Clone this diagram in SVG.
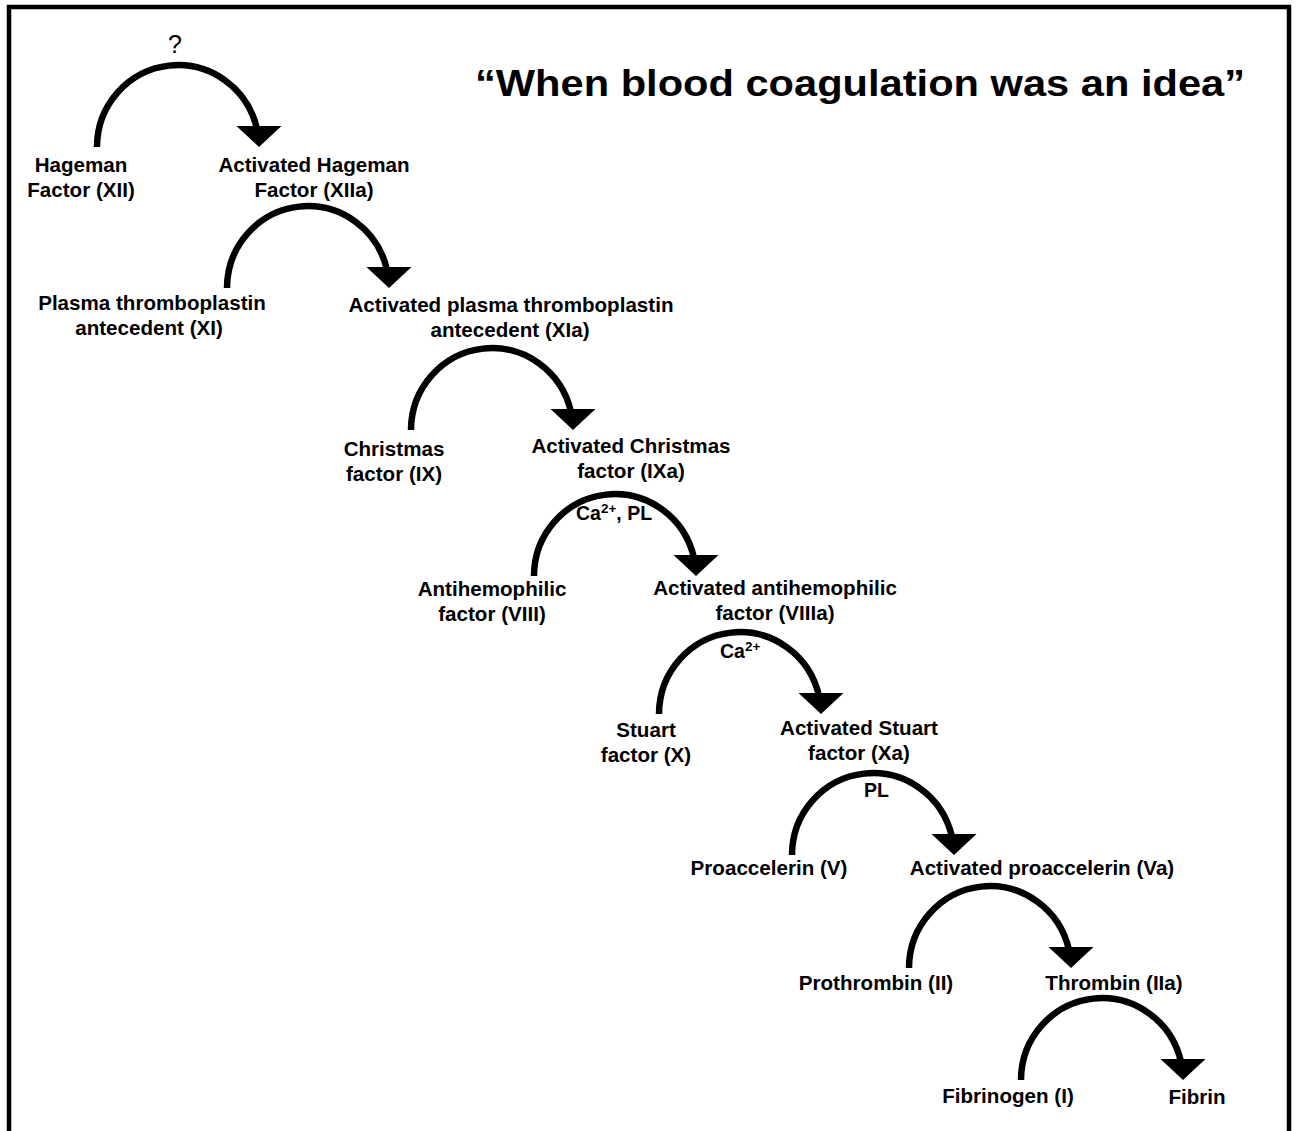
<svg xmlns="http://www.w3.org/2000/svg" width="1298" height="1131" viewBox="0 0 1298 1131">
  <style>
    .lbl { font-family: "Liberation Sans", Arial, sans-serif; font-weight: bold; font-size: 20.6px; fill: #000; text-anchor: middle; }
    .cof { font-family: "Liberation Sans", Arial, sans-serif; font-weight: bold; font-size: 19.5px; fill: #000; }
    .sup { font-size: 13.5px; }
    .arc { fill: none; stroke: #000; stroke-width: 6.5; }
    .head { fill: #000; }
    .title { font-family: "Liberation Sans", Arial, sans-serif; font-weight: bold; font-size: 37.5px; fill: #000; }
  </style>
  <defs>
    <g id="conv">
      <path class="arc" d="M 0 0 A 81 82 0 0 1 160 -18"/>
      <polygon class="head" points="139.5,-21 184.5,-21 162,0"/>
    </g>
  </defs>
  <rect x="0" y="0" width="1298" height="1131" fill="#fff"/>
  <rect x="9" y="7" width="1280" height="1200" fill="none" stroke="#000" stroke-width="4.5"/>

  <text class="title" x="475" y="96" textLength="770" lengthAdjust="spacingAndGlyphs">“When blood coagulation was an idea”</text>

  <g id="connectors">
    <use href="#conv" x="97" y="147"/>
    <use href="#conv" x="227" y="288"/>
    <use href="#conv" x="411" y="430"/>
    <use href="#conv" x="534" y="576"/>
    <use href="#conv" x="659" y="714"/>
    <use href="#conv" x="792" y="855"/>
    <use href="#conv" x="909" y="968"/>
    <use href="#conv" x="1021" y="1080"/>
    <text x="175" y="53" font-family="Liberation Sans, Arial, sans-serif" font-size="25" text-anchor="middle">?</text>
    <text class="cof" x="576" y="520">Ca<tspan class="sup" dy="-7">2+</tspan><tspan dy="7">, PL</tspan></text>
    <text class="cof" x="720" y="658">Ca<tspan class="sup" dy="-7">2+</tspan></text>
    <text class="cof" x="864" y="797">PL</text>
  </g>

  <g id="n-xii"><text class="lbl" x="81" y="172">Hageman</text><text class="lbl" x="81" y="197">Factor (XII)</text></g>
  <g id="n-xiia"><text class="lbl" x="314" y="172">Activated Hageman</text><text class="lbl" x="314" y="197">Factor (XIIa)</text></g>
  <g id="n-xi"><text class="lbl" x="152" y="310">Plasma thromboplastin</text><text class="lbl" x="149" y="335">antecedent (XI)</text></g>
  <g id="n-xia"><text class="lbl" x="511" y="312">Activated plasma thromboplastin</text><text class="lbl" x="510" y="337">antecedent (XIa)</text></g>
  <g id="n-ix"><text class="lbl" x="394" y="456">Christmas</text><text class="lbl" x="394" y="481">factor (IX)</text></g>
  <g id="n-ixa"><text class="lbl" x="631" y="453">Activated Christmas</text><text class="lbl" x="631" y="478">factor (IXa)</text></g>
  <g id="n-viii"><text class="lbl" x="492" y="596">Antihemophilic</text><text class="lbl" x="492" y="621">factor (VIII)</text></g>
  <g id="n-viiia"><text class="lbl" x="775" y="595">Activated antihemophilic</text><text class="lbl" x="775" y="620">factor (VIIIa)</text></g>
  <g id="n-x"><text class="lbl" x="646" y="737">Stuart</text><text class="lbl" x="646" y="762">factor (X)</text></g>
  <g id="n-xa"><text class="lbl" x="859" y="735">Activated Stuart</text><text class="lbl" x="859" y="760">factor (Xa)</text></g>
  <g id="n-v"><text class="lbl" x="769" y="875">Proaccelerin (V)</text></g>
  <g id="n-va"><text class="lbl" x="1042" y="875">Activated proaccelerin (Va)</text></g>
  <g id="n-ii"><text class="lbl" x="876" y="990">Prothrombin (II)</text></g>
  <g id="n-iia"><text class="lbl" x="1114" y="990">Thrombin (IIa)</text></g>
  <g id="n-i"><text class="lbl" x="1008" y="1103">Fibrinogen (I)</text></g>
  <g id="n-fibrin"><text class="lbl" x="1197" y="1104">Fibrin</text></g>
</svg>
